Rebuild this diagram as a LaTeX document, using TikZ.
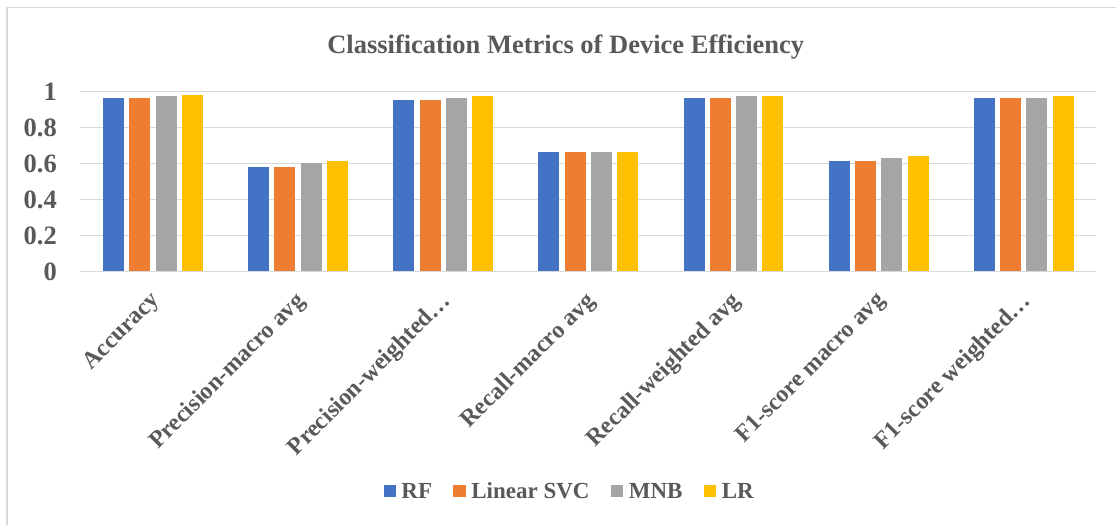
\documentclass[tikz,border=0pt]{standalone}
\usepackage{fontspec}
\setmainfont{Liberation Serif}
\usetikzlibrary{positioning}
\definecolor{rfblue}{HTML}{4472C4}
\definecolor{svcorange}{HTML}{ED7D31}
\definecolor{mnbgray}{HTML}{A5A5A5}
\definecolor{lryellow}{HTML}{FFC000}
\definecolor{inkgray}{HTML}{595959}
\definecolor{rulegray}{HTML}{D9D9D9}
\colorlet{bar0}{rfblue}
\colorlet{bar1}{svcorange}
\colorlet{bar2}{mnbgray}
\colorlet{bar3}{lryellow}
\tikzset{lbl/.style={inner sep=0pt,text=inkgray,font=\bfseries\fontsize{26.5}{30}\selectfont},
	catlbl/.style={lbl,font=\bfseries\fontsize{24}{28}\selectfont,rotate=45,anchor=north east},
	gridline/.style={draw=rulegray,line width=1.5pt},
	key/.style={minimum size=12.5pt,inner sep=0pt},
	keytext/.style={inner sep=0pt,text=inkgray,font=\bfseries\fontsize{23}{26}\selectfont}}

\begin{document}
\begin{tikzpicture}[x=1pt,y=-1pt]
	\useasboundingbox (0,0) rectangle (1116,525);
	\draw[gridline] (7,525) -- (7,7.5) -- (1116,7.5);
	\node[lbl,anchor=base] (title) at (565.7,53) {Classification Metrics of Device Efficiency};
	\foreach \tk [count=\n from 0] in {0,0.2,0.4,0.6,0.8,1}{
		\draw[gridline] (80.4,271.7-180*\tk) -- (1096.4,271.7-180*\tk);
		\node[lbl,anchor=east] (tick\n) at (57,271.7-180*\tk) {\tk};
	}
	\foreach \vals [count=\k from 0] in {{0.96,0.96,0.97,0.98},{0.58,0.58,0.60,0.61},{0.95,0.95,0.96,0.97},
		{0.66,0.66,0.66,0.66},{0.96,0.96,0.97,0.97},{0.61,0.61,0.63,0.64},{0.96,0.96,0.96,0.97}}{
		\foreach \val [count=\j from 0] in \vals
			\fill[bar\j] ({80.4+145.14*(\k+0.5)-50+26.3*\j},270.9) rectangle ++(21,-180*\val);
	}
	\foreach \name [count=\k from 0] in {Accuracy,Precision-macro avg,Precision-weighted…,Recall-macro avg,
		Recall-weighted avg,F1-score macro avg,F1-score weighted…}
		\node[catlbl] (cat\k) at ({80.4+145.14*(\k+0.5)-4},290) {\name};
	\node[key,fill=rfblue,anchor=west] (kRF) at (383.3,491) {};
	\node[keytext,right=5pt of kRF] (tRF) {RF};
	\node[key,fill=svcorange,right=21pt of tRF] (kSVC) {};
	\node[keytext,right=5pt of kSVC] (tSVC) {Linear SVC};
	\node[key,fill=mnbgray,right=21pt of tSVC] (kMNB) {};
	\node[keytext,right=5pt of kMNB] (tMNB) {MNB};
	\node[key,fill=lryellow,right=21pt of tMNB] (kLR) {};
	\node[keytext,right=5pt of kLR] (tLR) {LR};
\end{tikzpicture}
\end{document}
